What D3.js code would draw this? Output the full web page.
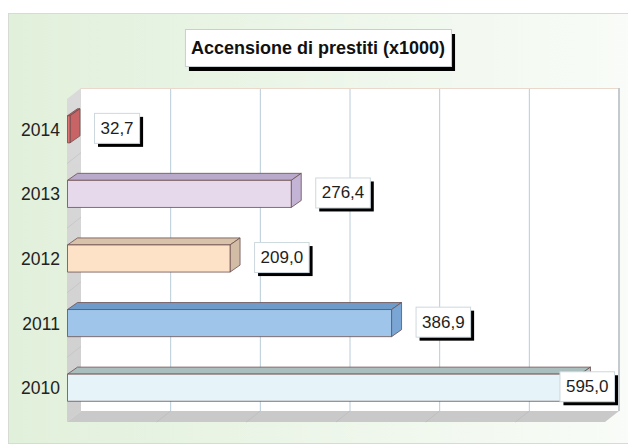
<!DOCTYPE html>
<html><head><meta charset="utf-8">
<script src="https://cdn.jsdelivr.net/npm/d3@7/dist/d3.min.js"></script>
<style>html,body{margin:0;padding:0;background:#fff;}svg{display:block;}</style>
</head><body>
<svg id="c" width="628" height="445"></svg>
<script>
const title = "Accensione di prestiti (x1000)";
const categories = ["2014", "2013", "2012", "2011", "2010"];
const values = [32.7, 276.4, 209.0, 386.9, 595.0];
const valueLabels = ["32,7", "276,4", "209,0", "386,9", "595,0"];
const frontColors = ["#de7474", "#e6d9ec", "#fde2c8", "#9fc6ea", "#e6f3f8"];
const topColors   = ["#c85a5c", "#b9aacb", "#d9c2aa", "#6f9bcb", "#a9bebd"];
const sideColors  = ["#c86466", "#c3b4d6", "#d2bca6", "#7aa6d6", "#b7cccc"];
const axisMin = 29.4, axisMax = 622, gridCount = 6;

const svg = d3.select("#c");
const defs = svg.append("defs");
const g1 = defs.append("linearGradient").attr("id","bg").attr("x1","0").attr("x2","1").attr("y1","0").attr("y2","0");
g1.append("stop").attr("offset","0").attr("stop-color","#e1f0db");
g1.append("stop").attr("offset","1").attr("stop-color","#f9fcf8");
const g2 = defs.append("linearGradient").attr("id","wall").attr("x1","0").attr("x2","0").attr("y1","0").attr("y2","1");
g2.append("stop").attr("offset","0").attr("stop-color","#dadada");
g2.append("stop").attr("offset","1").attr("stop-color","#cfcfcf");

// panel
svg.append("rect").attr("x",8.5).attr("y",13.5).attr("width",630).attr("height",430)
  .attr("fill","url(#bg)").attr("stroke","#d6dcd4").attr("stroke-width",1);

// geometry
const D = {dx: 14, dy: -11};
const B = {dx: 10, dy: -7};
const fTop = 99, fBot = 422;
const x = d3.scaleLinear().domain([axisMin, axisMax]).range([67, 605]);
const y = d3.scaleBand().domain(categories).range([fTop - 2, fBot - 2]).paddingInner(0.58).paddingOuter(0.29);
const x0 = x(axisMin), x1 = x(axisMax);

// back wall
svg.append("rect").attr("x", x0 + D.dx).attr("y", fTop + D.dy).attr("width", x1 - x0).attr("height", fBot - fTop)
  .attr("fill", "#ffffff");
// left side wall
svg.append("path").attr("d", `M${x0},${fTop}L${x0+D.dx},${fTop+D.dy}L${x0+D.dx},${fBot+D.dy}L${x0},${fBot}Z`)
  .attr("fill", "url(#wall)");
// floor
svg.append("path").attr("d", `M${x0},${fBot}L${x0+D.dx},${fBot+D.dy}L${x1+D.dx},${fBot+D.dy}L${x1},${fBot}Z`)
  .attr("fill", "#c9c9c9");
// side wall faint lines at band boundaries
categories.forEach((c, i) => {
  if (i === 0) return;
  const yy = y(c) - y.step() * y.paddingInner() / 2 + 2;
  svg.append("line").attr("x1", x0).attr("y1", yy).attr("x2", x0 + D.dx).attr("y2", yy + D.dy)
    .attr("stroke", "#c4c4c4").attr("stroke-width", 0.8);
});
// gridlines
const gridVals = d3.range(1, gridCount).map(k => axisMin + k * (axisMax - axisMin) / gridCount);
svg.selectAll("line.grid").data(gridVals).join("line").attr("class","grid")
  .attr("x1", d => x(d) + D.dx).attr("x2", d => x(d) + D.dx)
  .attr("y1", fTop + D.dy).attr("y2", fBot + D.dy)
  .attr("stroke", "#b9ccd8").attr("stroke-width", 1);
svg.selectAll("line.fgrid").data(gridVals).join("line").attr("class","fgrid")
  .attr("x1", d => x(d) + D.dx).attr("x2", d => x(d))
  .attr("y1", fBot + D.dy).attr("y2", fBot)
  .attr("stroke", "#bdbdbd").attr("stroke-width", 0.8);
// back wall top and right borders
svg.append("line").attr("x1", x0 + D.dx).attr("x2", x1 + D.dx).attr("y1", fTop + D.dy + 0.5).attr("y2", fTop + D.dy + 0.5)
  .attr("stroke", "#ead8cc").attr("stroke-width", 1);
svg.append("line").attr("x1", x1 + D.dx).attr("x2", x1 + D.dx).attr("y1", fTop + D.dy).attr("y2", fBot + D.dy)
  .attr("stroke", "#c4cace").attr("stroke-width", 2);

// bars
const bars = svg.append("g");
categories.forEach((c, i) => {
  const v = values[i];
  const xl = x(axisMin) + 0.5, xr = x(v);
  const yt = y(c), h = y.bandwidth();
  const gb = bars.append("g").attr("stroke", "#6b4e4e").attr("stroke-width", 0.8).attr("stroke-linejoin","round");
  gb.append("path").attr("d", `M${xl},${yt}L${xl+B.dx},${yt+B.dy}L${xr+B.dx},${yt+B.dy}L${xr},${yt}Z`).attr("fill", topColors[i]);
  gb.append("path").attr("d", `M${xr},${yt}L${xr+B.dx},${yt+B.dy}L${xr+B.dx},${yt+h+B.dy}L${xr},${yt+h}Z`).attr("fill", sideColors[i]);
  gb.append("rect").attr("x", xl).attr("y", yt).attr("width", Math.max(0, xr - xl)).attr("height", h).attr("fill", frontColors[i]);
});

// category labels
svg.selectAll("text.cat").data(categories).join("text").attr("class","cat")
  .attr("x", 60).attr("y", d => y(d) + y.bandwidth() / 2 + 6.5)
  .attr("text-anchor", "end").attr("font-family", "Liberation Sans, Arial, sans-serif")
  .attr("font-size", 17.5).attr("fill", "#222").text(d => d);

// value labels
const lab = svg.append("g");
categories.forEach((c, i) => {
  const t = lab.append("text").attr("font-family", "Liberation Sans, Arial, sans-serif").attr("font-size", 17)
    .attr("fill", "#1e1e1e").text(valueLabels[i]);
  const tw = t.node().getComputedTextLength();
  const bw = tw + 12, bh = 30;
  let bx = x(values[i]) + B.dx + 14;
  bx = Math.min(bx, 614 - bw);
  const by = y(c) + y.bandwidth() - bh;
  lab.insert("rect", "text").attr("x", bx + 4).attr("y", by + 4).attr("width", bw).attr("height", bh).attr("fill", "#000");
  lab.insert("rect", "text").attr("x", bx + 0.5).attr("y", by + 0.5).attr("width", bw).attr("height", bh)
    .attr("fill", "#fff").attr("stroke", "#cdd8de").attr("stroke-width", 1);
  t.attr("x", bx + 6.5).attr("y", by + 21);
  lab.node().appendChild(t.node());
});

// title
const tg = svg.append("g");
const tt = tg.append("text").attr("font-family", "Liberation Sans, Arial, sans-serif").attr("font-size", 18)
  .attr("font-weight", "bold").attr("fill", "#111").attr("text-anchor", "middle").attr("x", 318).attr("y", 54).text(title);
const tw = tt.node().getComputedTextLength();
const tbw = tw + 12, tbx = 318 - tbw / 2;
tg.insert("rect", "text").attr("x", tbx + 4).attr("y", 29 + 5).attr("width", tbw).attr("height", 37).attr("fill", "#000");
tg.insert("rect", "text").attr("x", tbx + 0.5).attr("y", 29.5).attr("width", tbw).attr("height", 37)
  .attr("fill", "#fff").attr("stroke", "#c8cfd0");
</script>
</body></html>
